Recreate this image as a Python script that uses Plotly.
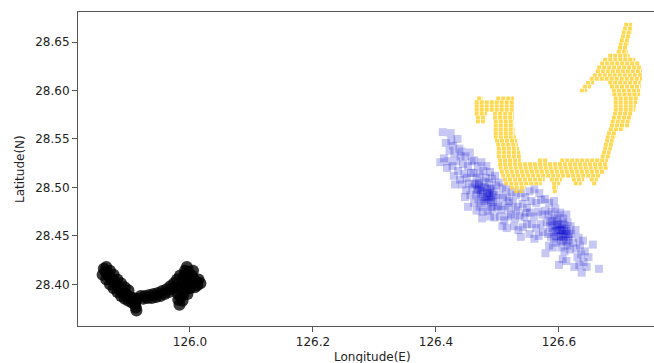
import plotly.graph_objects as go

# ---------------- data ----------------
blue_pts = [
    (126.411,28.557),(126.424,28.556),(126.416,28.546),(126.422,28.538),(126.413,28.530),(126.420,28.527),
    (126.407,28.526),(126.425,28.548),(126.418,28.520),
    (126.428,28.543),(126.435,28.550),(126.430,28.535),(126.438,28.540),(126.427,28.522),(126.433,28.527),
    (126.440,28.532),(126.429,28.512),(126.436,28.517),(126.431,28.503),(126.439,28.508),
    (126.442,28.537),(126.448,28.532),(126.455,28.536),(126.444,28.524),(126.452,28.522),(126.458,28.527),
    (126.446,28.514),(126.450,28.510),(126.457,28.515),(126.443,28.503),(126.449,28.497),(126.454,28.504),
    (126.459,28.500),(126.447,28.490),(126.456,28.492),(126.452,28.480),
    (126.462,28.528),(126.468,28.522),(126.474,28.526),(126.461,28.515),(126.466,28.510),(126.471,28.514),
    (126.477,28.517),(126.463,28.503),(126.467,28.498),(126.470,28.505),(126.474,28.500),(126.478,28.506),
    (126.465,28.492),(126.469,28.488),(126.473,28.493),(126.477,28.490),(126.462,28.484),(126.471,28.480),
    (126.476,28.475),(126.466,28.476),(126.475,28.468),(126.468,28.497),(126.472,28.497),
    (126.482,28.522),(126.488,28.516),(126.481,28.510),(126.486,28.505),(126.491,28.509),(126.496,28.512),
    (126.483,28.498),(126.487,28.494),(126.490,28.499),(126.494,28.496),(126.498,28.502),(126.481,28.488),
    (126.485,28.484),(126.489,28.487),(126.493,28.485),(126.497,28.489),(126.484,28.476),(126.492,28.478),
    (126.499,28.480),(126.488,28.470),(126.495,28.469),(126.486,28.491),(126.492,28.492),(126.489,28.480),
    (126.502,28.505),(126.508,28.500),(126.514,28.498),(126.503,28.492),(126.509,28.489),(126.516,28.490),
    (126.501,28.481),(126.506,28.477),(126.512,28.481),(126.518,28.479),(126.504,28.470),(126.511,28.466),
    (126.517,28.470),(126.508,28.460),(126.515,28.458),(126.519,28.486),
    (126.523,28.495),(126.530,28.492),(126.538,28.494),(126.545,28.490),(126.525,28.484),(126.533,28.480),
    (126.541,28.483),(126.548,28.479),(126.522,28.472),(126.529,28.468),(126.536,28.471),(126.544,28.469),
    (126.527,28.460),(126.534,28.456),(126.541,28.459),(126.548,28.462),(126.538,28.449),(126.530,28.476),
    (126.546,28.474),
    (126.552,28.496),(126.560,28.498),(126.568,28.494),(126.555,28.486),(126.563,28.484),(126.571,28.487),
    (126.553,28.474),(126.559,28.470),(126.566,28.475),(126.573,28.472),(126.556,28.462),(126.563,28.458),
    (126.570,28.462),(126.552,28.452),(126.560,28.447),(126.567,28.450),(126.574,28.454),
    (126.577,28.488),(126.584,28.484),(126.592,28.486),(126.578,28.476),(126.583,28.472),(126.588,28.475),
    (126.594,28.478),(126.599,28.471),(126.580,28.464),(126.585,28.460),(126.589,28.465),(126.593,28.461),
    (126.597,28.466),(126.582,28.452),(126.587,28.449),(126.591,28.454),(126.595,28.450),(126.599,28.456),
    (126.584,28.440),(126.590,28.438),(126.596,28.443),(126.578,28.432),(126.589,28.458),(126.593,28.468),
    (126.586,28.466),(126.597,28.459),
    (126.602,28.474),(126.607,28.468),(126.612,28.472),(126.601,28.462),(126.605,28.458),(126.609,28.461),
    (126.614,28.464),(126.619,28.460),(126.603,28.450),(126.607,28.446),(126.611,28.452),(126.615,28.449),
    (126.620,28.452),(126.604,28.438),(126.609,28.434),(126.614,28.440),(126.618,28.436),(126.623,28.443),
    (126.606,28.426),(126.612,28.424),(126.600,28.420),(126.608,28.455),(126.604,28.456),(126.612,28.457),
    (126.616,28.445),
    (126.627,28.456),(126.632,28.448),(126.628,28.437),(126.634,28.440),(126.639,28.445),(126.630,28.428),
    (126.636,28.431),(126.642,28.434),(126.633,28.420),(126.640,28.423),(126.648,28.428),(126.645,28.418),
    (126.655,28.441),(126.665,28.416),(126.625,28.418),(126.637,28.412),
    # extra density in the two dark cores
    (126.470,28.502),(126.476,28.496),(126.480,28.500),(126.484,28.494),(126.479,28.486),(126.474,28.484),
    (126.488,28.498),(126.483,28.490),(126.466,28.504),(126.490,28.490),
    (126.598,28.462),(126.602,28.456),(126.606,28.452),(126.603,28.445),(126.608,28.449),(126.611,28.444),
    (126.595,28.455),(126.600,28.449),(126.592,28.447),(126.613,28.455),(126.606,28.463),(126.617,28.452),
]

black_pts = [
    (125.860,28.416),(125.866,28.411),(125.872,28.406),(125.878,28.401),(125.884,28.397),(125.890,28.393),
    (125.896,28.390),(125.902,28.387),(125.908,28.386),(125.914,28.385),
    (125.863,28.413),(125.869,28.408),(125.875,28.403),(125.881,28.399),(125.887,28.395),(125.893,28.391),
    (125.899,28.388),(125.905,28.386),
    (125.858,28.410),(125.864,28.405),(125.870,28.400),(125.876,28.396),(125.882,28.392),(125.888,28.388),
    (125.894,28.385),(125.900,28.383),(125.906,28.381),
    (125.864,28.418),(125.870,28.414),(125.876,28.410),(125.882,28.405),(125.888,28.401),(125.894,28.397),
    (125.900,28.394),
    (125.911,28.380),(125.912,28.376),(125.913,28.373),(125.910,28.383),
    (125.920,28.388),(125.927,28.388),(125.934,28.389),(125.941,28.390),(125.948,28.391),(125.955,28.393),
    (125.962,28.395),(125.968,28.398),(125.974,28.401),(125.979,28.405),(125.984,28.409),
    (125.924,28.385),(125.931,28.386),(125.938,28.386),(125.945,28.387),(125.952,28.388),(125.959,28.390),
    (125.966,28.392),(125.971,28.395),(125.976,28.397),
    (125.995,28.418),(125.992,28.414),(125.998,28.413),(125.990,28.408),(125.996,28.407),(126.003,28.409),
    (125.988,28.402),(125.995,28.401),(126.002,28.402),(126.010,28.403),(126.017,28.401),(125.986,28.396),
    (125.993,28.395),(126.000,28.396),(126.008,28.397),(125.981,28.390),(125.989,28.389),(125.996,28.390),
    (125.981,28.384),(125.988,28.383),(125.983,28.379),(126.014,28.405),(126.005,28.414),
    (125.993,28.410),(125.999,28.405),(126.006,28.405),(125.991,28.399),(125.985,28.387),(126.012,28.399),
]

# yellow cluster: one latitude row each, with its longitude spans
yellow_lat = [
    28.668, 28.664, 28.660, 28.656, 28.652, 28.648, 28.644, 28.640, 28.636, 28.632, 28.628, 28.624,
    28.620, 28.616, 28.612, 28.608, 28.604, 28.600, 28.596, 28.592, 28.588, 28.584, 28.580, 28.576,
    28.572, 28.568, 28.564, 28.560, 28.556, 28.552, 28.548, 28.544, 28.540, 28.536, 28.532, 28.528,
    28.524, 28.520, 28.516, 28.512, 28.508, 28.504, 28.500, 28.496,
]
yellow_spans = [
    [(126.706,126.719)], [(126.704,126.719)], [(126.702,126.719)], [(126.701,126.717)],
    [(126.699,126.715)], [(126.697,126.714)], [(126.696,126.712)], [(126.694,126.712)],
    [(126.680,126.715)], [(126.672,126.724)], [(126.667,126.732)], [(126.662,126.735)],
    [(126.660,126.735)], [(126.655,126.735)], [(126.650,126.735)],
    [(126.644,126.657),(126.680,126.733)], [(126.639,126.652),(126.683,126.733)],
    [(126.634,126.646),(126.686,126.732)], [(126.687,126.732)],
    [(126.467,126.476),(126.498,126.527),(126.689,126.729)],
    [(126.463,126.528),(126.689,126.727)], [(126.463,126.528),(126.689,126.725)],
    [(126.463,126.527),(126.689,126.724)],
    [(126.463,126.483),(126.493,126.527),(126.688,126.720)],
    [(126.465,126.481),(126.493,126.527),(126.686,126.719)],
    [(126.465,126.480),(126.494,126.527),(126.684,126.717)],
    [(126.494,126.527),(126.683,126.715)], [(126.494,126.528),(126.681,126.706)],
    [(126.494,126.528),(126.678,126.694)], [(126.494,126.530),(126.676,126.693)],
    [(126.496,126.532),(126.675,126.689)], [(126.498,126.533),(126.673,126.688)],
    [(126.499,126.535),(126.672,126.686)], [(126.499,126.537),(126.670,126.684)],
    [(126.499,126.538),(126.668,126.684)],
    [(126.501,126.538),(126.566,126.582),(126.602,126.680)],
    [(126.501,126.680)], [(126.502,126.680)], [(126.504,126.675)], [(126.506,126.667)],
    [(126.509,126.577),(126.585,126.605),(126.621,126.641),(126.650,126.663)],
    [(126.511,126.572),(126.589,126.602),(126.624,126.637),(126.654,126.662)],
    [(126.520,126.546),(126.589,126.598)],
    [(126.527,126.543),(126.590,126.597)],
]

x_ticks = [126.0, 126.2, 126.4, 126.6]
y_ticks = [28.40, 28.45, 28.50, 28.55, 28.60, 28.65]
x_title = "Longitude(E)"
y_title = "Latitude(N)"

# ---------------- figure ----------------
W, H = 654, 363
ML, MR, MT, MB = 78, 0, 12, 37
AXC = "#555555"
FONT = "DejaVu Sans"

fig = go.Figure()

fig.add_trace(go.Scatter(
    x=[p[0] for p in black_pts], y=[p[1] for p in black_pts], mode="markers",
    marker=dict(symbol="circle", size=12, color="black", opacity=0.78, line=dict(width=0)),
    hoverinfo="skip", showlegend=False))

fig.add_trace(go.Scatter(
    x=[p[0] for p in blue_pts], y=[p[1] for p in blue_pts], mode="markers",
    marker=dict(symbol="square", size=8, color="rgb(0,0,205)", opacity=0.22, line=dict(width=0)),
    hoverinfo="skip", showlegend=False))

yx, yy = [], []
for lat, spans in zip(yellow_lat, yellow_spans):
    for a, b in spans:
        yx += [a, b, None]
        yy += [lat, lat, None]
fig.add_trace(go.Scatter(
    x=yx, y=yy, mode="lines",
    line=dict(color="rgba(255,208,40,0.8)", width=3.6, dash="4px,1px"),
    hoverinfo="skip", showlegend=False))

fig.update_layout(
    width=W, height=H, margin=dict(l=ML, r=MR, t=MT, b=MB),
    paper_bgcolor="white", plot_bgcolor="white",
    font=dict(family=FONT, size=12, color="#222222"),
    xaxis=dict(range=[125.818, 126.7545], tickvals=x_ticks, tickformat=".1f",
               showgrid=False, zeroline=False, showline=True, linecolor=AXC, linewidth=1,
               mirror=True, ticks="outside", ticklen=5, tickcolor=AXC, tickwidth=1),
    yaxis=dict(range=[28.357, 28.681], tickvals=y_ticks, tickformat=".2f",
               showgrid=False, zeroline=False, showline=True, linecolor=AXC, linewidth=1,
               mirror=False, ticks="outside", ticklen=5, tickcolor=AXC, tickwidth=1),
    annotations=[
        dict(text=x_title, xref="paper", yref="paper", x=(372 - ML) / (W - ML - MR),
             y=-(357 - (H - MB)) / (H - MT - MB), xanchor="center", yanchor="middle",
             showarrow=False, font=dict(size=12, family=FONT, color="#222222")),
        dict(text=y_title, xref="paper", yref="paper", x=(20 - ML) / (W - ML - MR), y=0.5,
             xanchor="center", yanchor="middle", textangle=-90, showarrow=False,
             font=dict(size=12, family=FONT, color="#222222")),
    ],
)

fig.write_html("out.html")
